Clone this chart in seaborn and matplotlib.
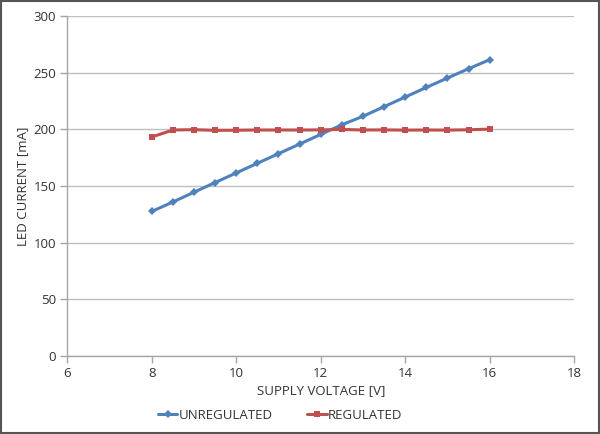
import pandas as pd
import matplotlib.pyplot as plt
import seaborn as sns
from matplotlib.patches import Rectangle

# Datos
voltaje = [8, 8.5, 9, 9.5, 10, 10.5, 11, 11.5, 12, 12.5, 13, 13.5, 14, 14.5, 15, 15.5, 16]
no_regulada = [127.5, 135.8, 144.5, 153, 161.5, 170, 178.5, 187, 195.5, 204, 211.5, 220, 228.5, 237, 245.3, 253.5, 261.5]
regulada = [193.2, 199.4, 199.7, 199.1, 199.2, 199.4, 199.4, 199.4, 199.5, 199.9, 199.4, 199.5, 199.3, 199.4, 199.3, 199.6, 200.2]

df = pd.DataFrame({
    'V': voltaje * 2,
    'I': no_regulada + regulada,
    'serie': ['UNREGULATED'] * len(voltaje) + ['REGULATED'] * len(voltaje),
})

sns.set_style('white')
plt.rcParams['font.family'] = ['Open Sans', 'DejaVu Sans']

fig, ax = plt.subplots(figsize=(6, 4.34), dpi=100)
fig.subplots_adjust(left=0.112, right=0.957, top=0.963, bottom=0.18)

sns.lineplot(data=df, x='V', y='I', hue='serie', style='serie',
             palette={'UNREGULATED': '#4F81BD', 'REGULATED': '#C0504D'},
             markers={'UNREGULATED': 'D', 'REGULATED': 's'},
             dashes=False, linewidth=2.2, markersize=4.5, markeredgewidth=0,
             ax=ax)

ax.set_xlim(6, 18)
ax.set_ylim(0, 300)
ax.set_xticks(range(6, 19, 2))
ax.set_yticks(range(0, 301, 50))
ax.yaxis.grid(True, color='#BFBFBF', linewidth=1)
ax.set_axisbelow(True)

for s in ['top', 'right']:
    ax.spines[s].set_visible(False)
for s in ['left', 'bottom']:
    ax.spines[s].set_color('#A6A6A6')
    ax.spines[s].set_linewidth(1)

ax.tick_params(axis='both', which='major', length=5, width=1, color='#A6A6A6',
               labelsize=9.5, labelcolor='#333333', direction='out',
               left=True, bottom=True, pad=3)

ax.set_xlabel('SUPPLY VOLTAGE [V]', fontsize=9.5, color='#333333', labelpad=3)
ax.set_ylabel('LED CURRENT [mA]', fontsize=9.5, color='#333333', labelpad=3)

ax.legend(loc='upper center', bbox_to_anchor=(0.42, -0.12), ncol=2, frameon=False,
          fontsize=9.5, handlelength=1.5, columnspacing=2.6, handletextpad=0.1,
          labelcolor='#333333')

# Marco exterior
fig.patches.append(Rectangle((0.002, 0.003), 0.996, 0.994, transform=fig.transFigure,
                             fill=False, edgecolor='#555555', linewidth=1.5))

fig.savefig('out.png', dpi=100)
